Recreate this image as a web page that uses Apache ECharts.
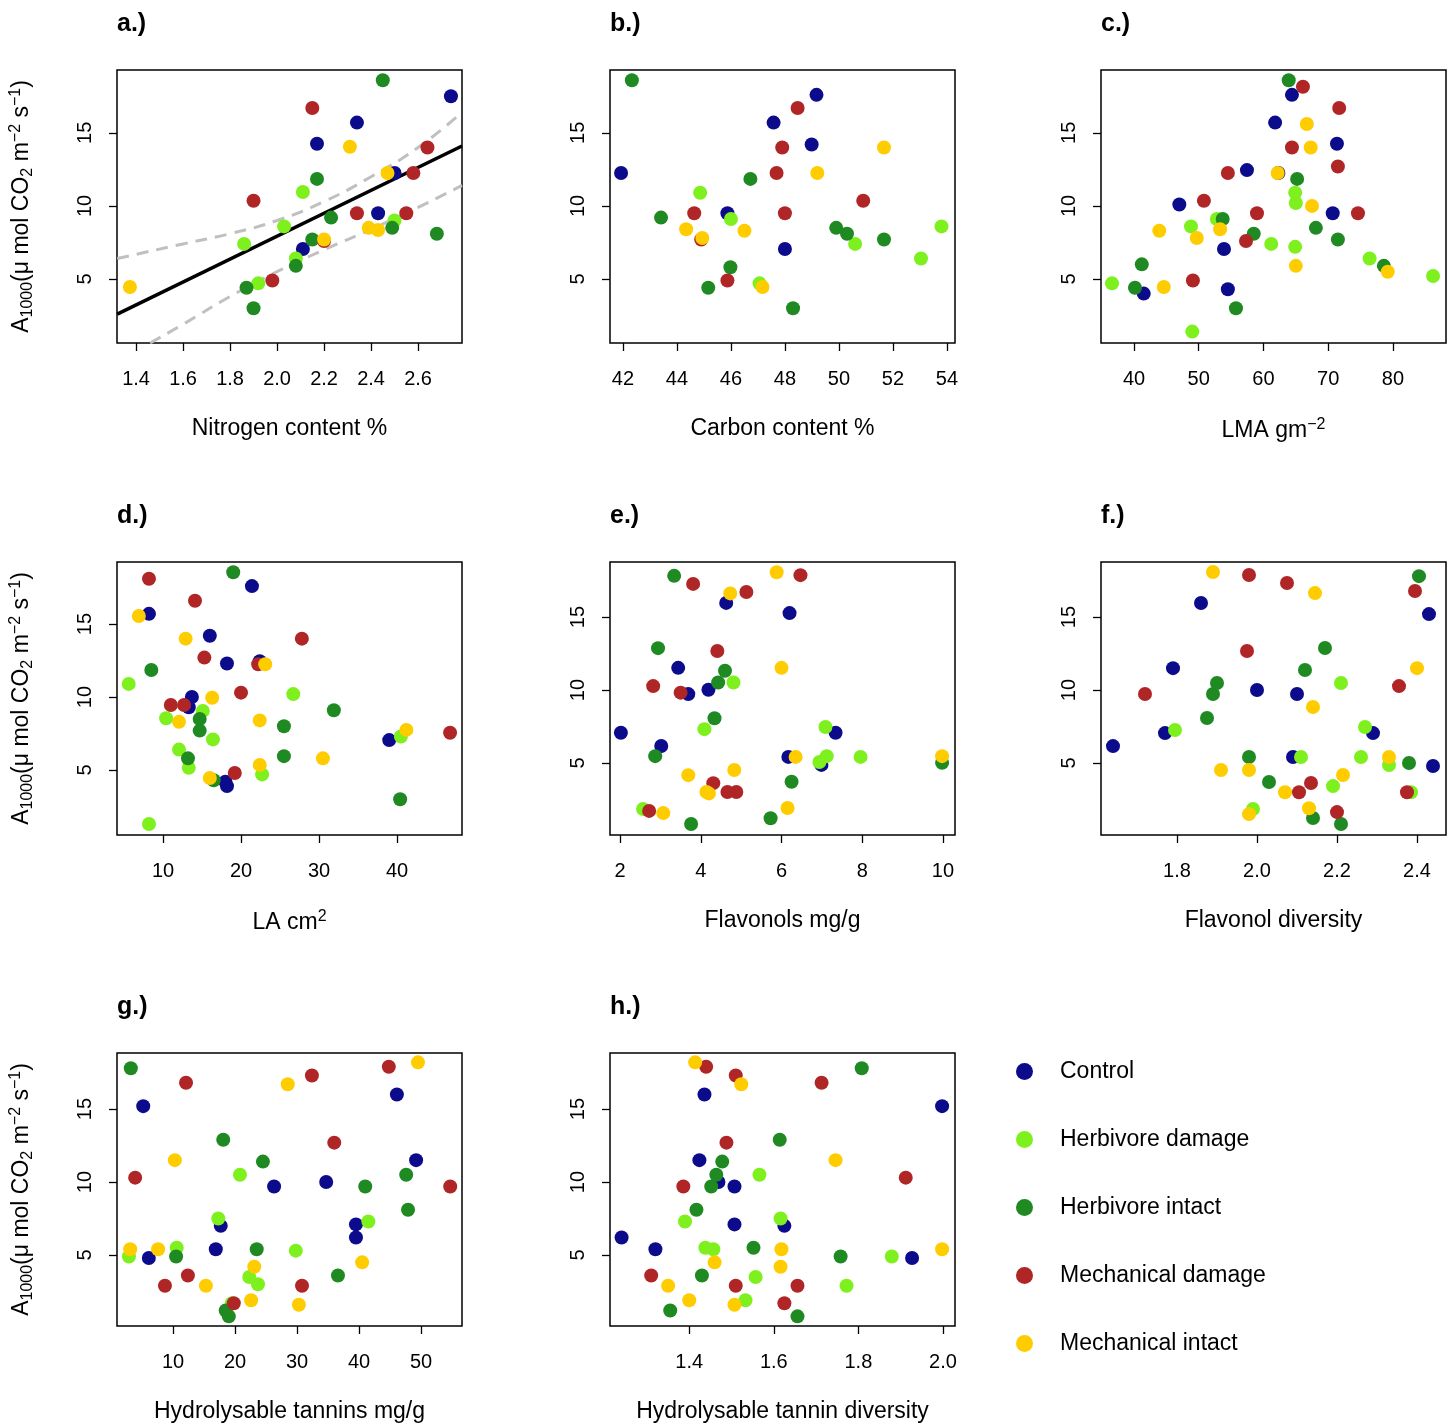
<!doctype html>
<html>
<head>
<meta charset="utf-8">
<style>html,body{margin:0;padding:0;background:#fff}#main{width:1453px;height:1426px}</style>
</head>
<body>
<div id="main"></div>
<script src="https://cdn.jsdelivr.net/npm/echarts@6/dist/echarts.min.js"></script>
<script>
var groups = ['Control', 'Herbivore damage', 'Herbivore intact', 'Mechanical damage', 'Mechanical intact'];
var colors = ['#0b0b8c', '#7ef01e', '#1f8a22', '#b02626', '#ffcc00'];

// a.) Nitrogen content %
var aCtl = [[2.11,7.05],[2.17,14.25],[2.34,15.7],[2.43,9.5],[2.50,12.25],[2.74,17.5]];
var aHd = [[1.92,4.7],[1.86,7.4],[2.03,8.6],[2.08,6.4],[2.11,10.95],[2.50,9.0]];
var aHi = [[1.87,4.4],[1.90,3.0],[2.08,5.9],[2.15,7.7],[2.17,11.85],[2.23,9.2],[2.45,18.6],[2.49,8.5],[2.68,8.1]];
var aMd = [[1.98,4.9],[1.90,10.35],[2.15,16.7],[2.20,7.6],[2.34,9.5],[2.55,9.5],[2.58,12.25],[2.64,14.0]];
var aMi = [[1.374,4.45],[2.20,7.7],[2.31,14.05],[2.39,8.5],[2.43,8.35],[2.47,12.25]];
var aFit = [[1.32,2.6],[2.787,14.1]];
var aUpper = [[1.32,6.4],[1.6,7.4],[1.8,8.1],[2.0,9.0],[2.2,10.3],[2.4,12.0],[2.6,14.0],[2.787,16.4]];
var aLower = [[1.46,0.62],[1.6,1.9],[1.8,3.8],[2.0,5.5],[2.2,7.0],[2.4,8.4],[2.6,9.9],[2.787,11.4]];

// b.) Carbon content %
var bCtl = [[41.93,12.25],[45.87,9.5],[47.58,15.7],[48.0,7.05],[49.17,17.6],[48.99,14.2]];
var bHd = [[44.86,10.9],[46.0,9.1],[47.06,4.7],[50.6,7.4],[53.04,6.4],[53.8,8.6]];
var bHi = [[42.33,18.6],[43.41,9.2],[45.16,4.4],[45.98,5.8],[46.72,11.85],[48.3,3.0],[49.9,8.5],[50.3,8.1],[51.67,7.7]];
var bMd = [[44.64,9.5],[44.9,7.7],[45.87,4.9],[47.69,12.25],[47.9,14.0],[48.0,9.5],[48.47,16.7],[50.9,10.35]];
var bMi = [[44.34,8.4],[44.94,7.8],[46.5,8.3],[47.17,4.45],[49.2,12.25],[51.67,14.0]];

// c.) LMA
var cCtl = [[41.5,4.0],[47.0,10.1],[53.9,7.05],[54.5,4.3],[57.45,12.45],[61.8,15.7],[62.3,12.25],[64.4,17.6],[70.7,9.5],[71.35,14.25]];
var cHd = [[36.6,4.7],[48.8,8.6],[49.0,1.4],[52.8,9.1],[61.2,7.4],[64.9,10.9],[65.0,10.2],[64.9,7.2],[76.4,6.4],[86.2,5.2]];
var cHi = [[40.15,4.4],[41.2,6.0],[53.7,9.1],[55.75,3.0],[58.5,8.1],[63.9,18.6],[65.2,11.85],[68.1,8.5],[71.5,7.7],[78.6,5.9]];
var cMd = [[49.1,4.9],[50.8,10.35],[54.5,12.25],[57.3,7.6],[59.0,9.5],[64.4,14.0],[66.1,18.15],[71.7,16.7],[71.5,12.7],[74.6,9.5]];
var cMi = [[43.9,8.3],[44.6,4.45],[49.7,7.8],[53.3,8.4],[62.2,12.25],[65.0,5.9],[66.7,15.6],[67.3,14.0],[67.5,10.0],[79.2,5.5]];

// d.) LA
var dCtl = [[8.2,15.7],[13.7,10.0],[13.3,9.3],[16.0,14.2],[18.2,12.3],[18.2,3.9],[18.0,4.2],[21.4,17.6],[22.4,12.45],[39.0,7.05]];
var dHd = [[5.6,10.9],[8.2,1.3],[10.4,8.55],[12.05,6.4],[13.3,5.15],[15.1,9.05],[16.4,7.1],[22.7,4.7],[26.7,10.2],[40.5,7.3]];
var dHi = [[8.5,11.85],[13.2,5.8],[14.7,8.5],[14.7,7.7],[16.5,4.3],[19.0,18.55],[25.5,8.0],[25.5,5.95],[31.9,9.1],[40.4,3.0]];
var dMd = [[8.2,18.1],[11.0,9.45],[12.7,9.45],[14.1,16.6],[15.3,12.7],[19.2,4.8],[20.0,10.3],[22.2,12.25],[27.8,14.0],[46.8,7.55]];
var dMi = [[6.9,15.55],[12.05,8.3],[12.9,14.0],[16.3,9.95],[16.0,4.45],[23.1,12.25],[22.4,8.4],[22.4,5.35],[30.5,5.8],[41.2,7.75]];

// e.) Flavonols
var eCtl = [[2.02,7.07],[3.02,6.17],[3.44,11.52],[3.69,9.72],[4.19,10.02],[4.63,15.97],[6.17,5.42],[6.2,15.27],[6.99,4.87],[7.34,7.07]];
var eHd = [[2.57,1.85],[4.09,7.32],[4.81,10.52],[7.09,7.47],[7.12,5.47],[6.94,5.07],[7.96,5.42]];
var eHi = [[2.87,5.47],[2.94,12.87],[3.34,17.82],[3.76,0.82],[4.34,8.07],[4.43,10.52],[4.6,11.32],[5.73,1.22],[6.25,3.72],[9.98,5.02]];
var eMd = [[2.72,1.72],[2.82,10.27],[3.5,9.82],[3.81,17.27],[4.31,3.62],[4.41,12.67],[4.66,3.02],[4.88,3.02],[5.13,16.72],[6.47,17.87]];
var eMi = [[3.07,1.57],[3.69,4.17],[4.14,3.02],[4.2,2.92],[4.73,16.62],[4.83,4.52],[5.88,18.07],[6.0,11.52],[6.15,1.92],[6.35,5.42],[9.98,5.47]];

// f.) Flavonol diversity
var fCtl = [[1.64,6.16],[1.79,11.5],[1.77,7.05],[1.86,15.96],[2.0,10.0],[2.1,9.73],[2.09,5.41],[2.29,7.05],[2.43,15.2],[2.44,4.8]];
var fHd = [[1.795,7.26],[1.99,1.85],[2.11,5.41],[2.21,10.48],[2.19,3.42],[2.26,5.41],[2.27,7.47],[2.33,4.86],[2.385,3.0]];
var fHi = [[1.875,8.08],[1.89,9.73],[1.90,10.48],[1.98,5.41],[2.03,3.7],[2.12,11.37],[2.14,1.23],[2.17,12.88],[2.21,0.82],[2.38,5.0],[2.405,17.8]];
var fMd = [[1.72,9.73],[1.98,17.88],[1.975,12.67],[2.075,17.33],[2.105,3.0],[2.135,3.63],[2.2,1.64],[2.355,10.27],[2.375,3.0],[2.395,16.78]];
var fMi = [[1.89,18.08],[1.91,4.52],[1.98,4.52],[1.98,1.5],[2.07,3.0],[2.13,1.9],[2.145,16.64],[2.14,8.84],[2.215,4.18],[2.33,5.41],[2.4,11.5]];

// g.) Hydrolysable tannins
var gCtl = [[5.2,15.2],[6.1,4.8],[16.9,5.4],[17.7,7.0],[26.3,9.7],[34.7,10.0],[39.5,7.1],[39.5,6.2],[46.1,16.0],[49.2,11.5]];
var gHd = [[2.9,4.9],[10.6,5.5],[17.3,7.5],[19.5,1.7],[20.8,10.5],[22.3,3.5],[23.7,3.0],[29.8,5.3],[41.5,7.3]];
var gHi = [[3.2,17.8],[10.5,4.9],[18.1,12.9],[18.5,1.2],[19.0,0.8],[23.5,5.4],[24.5,11.4],[36.6,3.6],[41.0,9.7],[47.6,10.5],[47.9,8.1]];
var gMd = [[3.9,10.3],[8.7,2.9],[12.1,16.8],[12.4,3.6],[19.8,1.7],[30.8,2.9],[32.4,17.3],[36.0,12.7],[44.8,17.9],[54.7,9.7]];
var gMi = [[3.1,5.4],[7.6,5.4],[10.3,11.5],[15.3,2.9],[22.6,1.9],[23.1,4.2],[28.5,16.7],[30.3,1.6],[40.5,4.5],[49.5,18.2]];

// h.) Hydrolysable tannin diversity
var hCtl = [[1.24,6.2],[1.32,5.4],[1.424,11.5],[1.436,16.0],[1.469,10.0],[1.507,7.1],[1.507,9.7],[1.625,7.0],[1.927,4.8],[1.998,15.2]];
var hHd = [[1.39,7.3],[1.438,5.5],[1.457,5.4],[1.533,1.9],[1.557,3.5],[1.566,10.5],[1.616,7.5],[1.772,2.9],[1.879,4.9]];
var hHi = [[1.355,1.2],[1.417,8.1],[1.43,3.6],[1.452,9.7],[1.464,10.5],[1.478,11.4],[1.552,5.5],[1.614,12.9],[1.656,0.8],[1.758,4.9],[1.808,17.8]];
var hMd = [[1.31,3.6],[1.386,9.7],[1.44,17.9],[1.488,12.7],[1.51,2.9],[1.51,17.3],[1.625,1.7],[1.656,2.9],[1.713,16.8],[1.912,10.3]];
var hMi = [[1.35,2.9],[1.40,1.9],[1.414,18.2],[1.46,4.5],[1.507,1.6],[1.523,16.7],[1.618,5.4],[1.616,4.2],[1.746,11.5],[1.998,5.4]];

var yTicks = [5, 10, 15];

var panels = [
  {label: 'a.)', data: [aCtl, aHd, aHi, aMd, aMi], xmin: 1.319, xmax: 2.787, ymin: 0.62, ymax: 19.3,
   ticks: [1.4,1.6,1.8,2.0,2.2,2.4,2.6], dec: 1, name: 'Nitrogen content %', yname: true},
  {label: 'b.)', data: [bCtl, bHd, bHi, bMd, bMi], xmin: 41.52, xmax: 54.3, ymin: 0.62, ymax: 19.3,
   ticks: [42,44,46,48,50,52,54], dec: 0, name: 'Carbon content %'},
  {label: 'c.)', data: [cCtl, cHd, cHi, cMd, cMi], xmin: 34.9, xmax: 88.2, ymin: 0.62, ymax: 19.3,
   ticks: [40,50,60,70,80], dec: 0, name: 'LMA gm{sup|\u22122}'},
  {label: 'd.)', data: [dCtl, dHd, dHi, dMd, dMi], xmin: 4.1, xmax: 48.33, ymin: 0.55, ymax: 19.25,
   ticks: [10,20,30,40], dec: 0, name: 'LA cm{sup|2}', yname: true},
  {label: 'e.)', data: [eCtl, eHd, eHi, eMd, eMi], xmin: 1.75, xmax: 10.3, ymin: 0.07, ymax: 18.77,
   ticks: [2,4,6,8,10], dec: 0, name: 'Flavonols mg/g'},
  {label: 'f.)', data: [fCtl, fHd, fHi, fMd, fMi], xmin: 1.61, xmax: 2.4725, ymin: 0.07, ymax: 18.77,
   ticks: [1.8,2.0,2.2,2.4], dec: 1, name: 'Flavonol diversity'},
  {label: 'g.)', data: [gCtl, gHd, gHi, gMd, gMi], xmin: 0.97, xmax: 56.6, ymin: 0.14, ymax: 18.84,
   ticks: [10,20,30,40,50], dec: 0, name: 'Hydrolysable tannins mg/g', yname: true},
  {label: 'h.)', data: [hCtl, hHd, hHi, hMd, hMi], xmin: 1.2126, xmax: 2.0285, ymin: 0.14, ymax: 18.84,
   ticks: [1.4,1.6,1.8,2.0], dec: 1, name: 'Hydrolysable tannin diversity'}
];

var lefts = [117, 610, 1101];
var tops = [70, 562, 1053];
var W = 345, H = 273;
var font = 'Liberation Sans, Arial, sans-serif';

var grids = [], xAxes = [], yAxes = [], series = [], graphics = [];
panels.forEach(function (p, i) {
  var l = lefts[i % 3], t = tops[Math.floor(i / 3)];
  grids.push({left: l, top: t, width: W, height: H, show: true, borderColor: '#000', borderWidth: 1.5, backgroundColor: 'transparent'});
  xAxes.push({
    type: 'value', gridIndex: i, min: p.xmin, max: p.xmax,
    splitLine: {show: false}, axisLine: {show: false},
    axisTick: {show: true, length: 8, customValues: p.ticks, lineStyle: {color: '#000', width: 1.3}},
    axisLabel: {customValues: p.ticks, color: '#000', fontSize: 20, fontFamily: font, margin: 26,
      formatter: function (v) { return v.toFixed(p.dec); }},
    name: p.name, nameLocation: 'middle', nameGap: 74,
    nameTextStyle: {color: '#000', fontSize: 23, fontFamily: font,
      rich: {sup: {fontSize: 16, verticalAlign: 'top', color: '#000', fontFamily: font, padding: [0, 0, 12, 0]}}}
  });
  var ya = {
    type: 'value', gridIndex: i, min: p.ymin, max: p.ymax,
    splitLine: {show: false}, axisLine: {show: false},
    axisTick: {show: true, length: 8, customValues: yTicks, lineStyle: {color: '#000', width: 1.3}},
    axisLabel: {customValues: yTicks, color: '#000', fontSize: 20, fontFamily: font, rotate: 90, margin: 22}
  };
  if (p.yname) {
    ya.name = 'A{sub|1000}(\u03bc mol CO{sub|2} m{sup|\u22122} s{sup|\u22121})';
    ya.nameLocation = 'middle';
    ya.nameGap = 80;
    ya.nameTextStyle = {color: '#000', fontSize: 23, fontFamily: font, lineHeight: 30,
      rich: {
        sub: {fontSize: 16, color: '#000', fontFamily: font, padding: [12, 0, 0, 0]},
        sup: {fontSize: 16, color: '#000', fontFamily: font, padding: [0, 0, 12, 0]}
      }};
  }
  yAxes.push(ya);
  p.data.forEach(function (d, k) {
    series.push({type: 'scatter', name: groups[k], xAxisIndex: i, yAxisIndex: i, data: d,
      symbolSize: 14, itemStyle: {color: colors[k], opacity: 1}, z: 3});
  });
  graphics.push({type: 'text', left: l, top: t - 58,
    style: {text: p.label, fontSize: 25, fontWeight: 'bold', fontFamily: font, fill: '#000'}});
});

series.push({type: 'line', xAxisIndex: 0, yAxisIndex: 0, data: aUpper, smooth: true, symbol: 'none', silent: true,
  lineStyle: {color: '#c0c0c0', width: 3, type: [12, 8]}, z: 1});
series.push({type: 'line', xAxisIndex: 0, yAxisIndex: 0, data: aLower, smooth: true, symbol: 'none', silent: true,
  lineStyle: {color: '#c0c0c0', width: 3, type: [12, 8]}, z: 1});
series.push({type: 'line', xAxisIndex: 0, yAxisIndex: 0, data: aFit, symbol: 'none', silent: true,
  lineStyle: {color: '#000', width: 3.5}, z: 2});

var chart = echarts.init(document.getElementById('main'));
chart.setOption({
  backgroundColor: '#fff',
  animation: false,
  grid: grids,
  xAxis: xAxes,
  yAxis: yAxes,
  legend: {
    data: groups.map(function (g) { return {name: g, icon: 'circle'}; }),
    orient: 'vertical', left: 1011, top: 1055,
    itemWidth: 17, itemHeight: 17, itemGap: 45,
    textStyle: {fontSize: 23, fontFamily: font, color: '#000', lineHeight: 22, padding: [0, 0, 0, 22]}
  },
  graphic: graphics,
  series: series
});
window.onresize = chart.resize;
</script>
</body>
</html>
